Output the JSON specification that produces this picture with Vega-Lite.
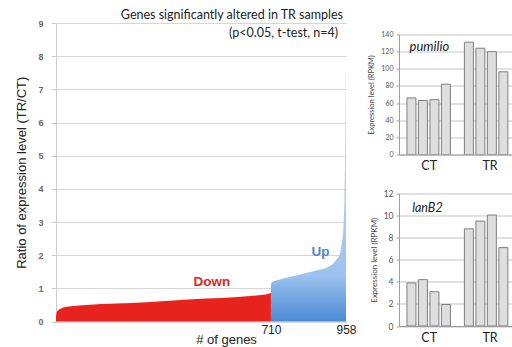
{
  "$schema": "https://vega.github.io/schema/vega-lite/v6.json",
  "padding": {"left": 15, "top": 9, "right": 0, "bottom": 0},
  "background": "white",
  "config": {"view": {"stroke": null}, "axis": {"labelOverlap": false, "gridOpacity": 1, "gridWidth": 1}},
  "datasets": {
    "genes": [
      {"gene": 0, "ratio": 0.14, "group": "Down"},
      {"gene": 2, "ratio": 0.26, "group": "Down"},
      {"gene": 6, "ratio": 0.33, "group": "Down"},
      {"gene": 12, "ratio": 0.37, "group": "Down"},
      {"gene": 24, "ratio": 0.42, "group": "Down"},
      {"gene": 50, "ratio": 0.46, "group": "Down"},
      {"gene": 100, "ratio": 0.50, "group": "Down"},
      {"gene": 200, "ratio": 0.54, "group": "Down"},
      {"gene": 300, "ratio": 0.58, "group": "Down"},
      {"gene": 400, "ratio": 0.64, "group": "Down"},
      {"gene": 498, "ratio": 0.69, "group": "Down"},
      {"gene": 600, "ratio": 0.74, "group": "Down"},
      {"gene": 670, "ratio": 0.79, "group": "Down"},
      {"gene": 700, "ratio": 0.83, "group": "Down"},
      {"gene": 710, "ratio": 0.87, "group": "Down"},
      {"gene": 710, "ratio": 1.12, "group": "Up"},
      {"gene": 712, "ratio": 1.17, "group": "Up"},
      {"gene": 720, "ratio": 1.21, "group": "Up"},
      {"gene": 740, "ratio": 1.27, "group": "Up"},
      {"gene": 762, "ratio": 1.32, "group": "Up"},
      {"gene": 800, "ratio": 1.40, "group": "Up"},
      {"gene": 828, "ratio": 1.47, "group": "Up"},
      {"gene": 860, "ratio": 1.54, "group": "Up"},
      {"gene": 894, "ratio": 1.62, "group": "Up"},
      {"gene": 910, "ratio": 1.70, "group": "Up"},
      {"gene": 927, "ratio": 1.87, "group": "Up"},
      {"gene": 938, "ratio": 2.05, "group": "Up"},
      {"gene": 945, "ratio": 2.4, "group": "Up"},
      {"gene": 950, "ratio": 2.9, "group": "Up"},
      {"gene": 953, "ratio": 3.8, "group": "Up"},
      {"gene": 955, "ratio": 5.0, "group": "Up"},
      {"gene": 956, "ratio": 6.2, "group": "Up"},
      {"gene": 957, "ratio": 7.2, "group": "Up"},
      {"gene": 958, "ratio": 7.65, "group": "Up"}
    ],
    "pumilio": [
      {"pos": 1, "sample": "CT", "rpkm": 66},
      {"pos": 2, "sample": "CT", "rpkm": 63},
      {"pos": 3, "sample": "CT", "rpkm": 64},
      {"pos": 4, "sample": "CT", "rpkm": 82},
      {"pos": 6, "sample": "TR", "rpkm": 131},
      {"pos": 7, "sample": "TR", "rpkm": 124},
      {"pos": 8, "sample": "TR", "rpkm": 120},
      {"pos": 9, "sample": "TR", "rpkm": 96.5}
    ],
    "lanb2": [
      {"pos": 1, "sample": "CT", "rpkm": 3.9},
      {"pos": 2, "sample": "CT", "rpkm": 4.2},
      {"pos": 3, "sample": "CT", "rpkm": 3.1},
      {"pos": 4, "sample": "CT", "rpkm": 1.95},
      {"pos": 6, "sample": "TR", "rpkm": 8.8},
      {"pos": 7, "sample": "TR", "rpkm": 9.5},
      {"pos": 8, "sample": "TR", "rpkm": 10.05},
      {"pos": 9, "sample": "TR", "rpkm": 7.1}
    ]
  },
  "bounds": "flush",
  "spacing": 53,
  "hconcat": [
    {
      "width": 290,
      "height": 298.5,
      "encoding": {
        "x": {"field": "gene", "type": "quantitative", "scale": {"domain": [0, 958], "nice": false},
          "axis": {"values": [710, 958], "labelFontSize": 12, "labelColor": "#222", "labelFont": "Liberation Sans", "ticks": false, "domainColor": "#d8d8d8", "grid": false, "labelFlush": false, "labelPadding": 3,
            "title": "# of genes", "titleFont": "Liberation Sans", "titleFontSize": 13, "titleFontWeight": "normal", "titleColor": "#222", "titlePadding": -2, "titleX": 170}},
        "y": {"field": "ratio", "type": "quantitative", "scale": {"domain": [0, 9], "nice": false},
          "axis": {"values": [0, 1, 2, 3, 4, 5, 6, 7, 8, 9], "grid": true, "gridColor": "#d6d6d6", "domainColor": "#cccccc", "tickColor": "#cccccc", "tickSize": 5,
            "labelFont": "Liberation Sans", "labelFontSize": 9, "labelFontWeight": "bold", "labelColor": "#6a6a6a", "labelPadding": 8,
            "title": "Ratio of expression level (TR/CT)", "titleFont": "Liberation Sans", "titleFontSize": 13, "titleFontWeight": "normal", "titleColor": "#222", "titleAnchor": "middle", "titlePadding": 9}}
      },
      "layer": [
        {
          "data": {"name": "genes"},
          "transform": [{"filter": "datum.group === 'Down'"}],
          "mark": {"type": "area", "color": "#e8231e", "interpolate": "monotone"}
        },
        {
          "data": {"name": "genes"},
          "transform": [{"filter": "datum.group === 'Up'"}],
          "mark": {"type": "area", "interpolate": "monotone",
            "color": {"gradient": "linear", "x1": 0, "y1": 0, "x2": 0, "y2": 1,
              "stops": [{"offset": 0, "color": "#cde1f8"}, {"offset": 0.82, "color": "#9cc2ee"}, {"offset": 1, "color": "#4a8ad5"}]}}
        },
        {
          "data": {"values": [{"gene": 515, "ratio": 1.18, "label": "Down"}]},
          "mark": {"type": "text", "font": "Liberation Sans", "fontSize": 13.5, "fontWeight": "bold", "color": "#e8231e"},
          "encoding": {"text": {"field": "label"}}
        },
        {
          "data": {"values": [{"gene": 874, "ratio": 2.1, "label": "Up"}]},
          "mark": {"type": "text", "font": "Liberation Sans", "fontSize": 13.5, "fontWeight": "bold", "color": "#4d86cc"},
          "encoding": {"text": {"field": "label"}}
        },
        {
          "data": {"values": [{"gene": 948, "ratio": 9.23, "label": "Genes significantly altered in TR samples"}, {"gene": 932, "ratio": 8.7, "label": "(p<0.05, t-test, n=4)"}]},
          "mark": {"type": "text", "font": "Lato", "fontSize": 12.5, "align": "right", "color": "#222"},
          "encoding": {"text": {"field": "label"}}
        }
      ]
    },
    {
      "bounds": "flush",
      "spacing": 10.5,
      "vconcat": [
        {"width": 10, "height": 1, "data": {"values": []}, "mark": "point", "encoding": {}},
        {
          "bounds": "flush",
          "spacing": 39,
          "vconcat": [
            {
              "width": 113,
              "height": 120,
              "encoding": {
                "x": {"field": "pos", "type": "quantitative", "scale": {"domain": [0.35, 9.318], "nice": false, "zero": false},
                  "axis": {"values": [2.5, 7.8], "labelExpr": "datum.value < 5 ? 'CT' : 'TR'", "ticks": false, "grid": false, "domainColor": "#999", "labelFont": "Lato", "labelFontSize": 12.5, "labelColor": "#222", "labelPadding": 5, "labelFlush": false, "title": null}},
                "y": {"field": "rpkm", "type": "quantitative", "scale": {"domain": [0, 140], "nice": false},
                  "axis": {"values": [0, 20, 40, 60, 80, 100, 120, 140], "grid": true, "gridColor": "#c4c4c4", "domainColor": "#a0a0a0", "tickColor": "#a0a0a0", "tickSize": 3,
                    "labelFont": "Lato", "labelFontSize": 7, "labelColor": "#555", "labelPadding": 3,
                    "title": "Expression level (RPKM)", "titleFont": "Lato", "titleFontSize": 7.5, "titleFontWeight": "normal", "titleColor": "#444", "titleAnchor": "middle", "titlePadding": 5}}
              },
              "layer": [
                {
                  "data": {"name": "pumilio"},
                  "mark": {"type": "bar", "width": 9, "fill": "#dedede", "stroke": "#7f7f7f", "strokeWidth": 1, "clip": true}
                },
                {
                  "data": {"values": [{"pos": 0.83, "rpkm": 125, "label": "pumilio"}]},
                  "mark": {"type": "text", "font": "Lato", "fontSize": 13, "fontStyle": "italic", "align": "left", "color": "#222"},
                  "encoding": {"text": {"field": "label"}}
                }
              ]
            },
            {
              "width": 113,
              "height": 132.5,
              "encoding": {
                "x": {"field": "pos", "type": "quantitative", "scale": {"domain": [0.35, 9.318], "nice": false, "zero": false},
                  "axis": {"values": [2.5, 7.8], "labelExpr": "datum.value < 5 ? 'CT' : 'TR'", "ticks": false, "grid": false, "domainColor": "#999", "labelFont": "Lato", "labelFontSize": 12.5, "labelColor": "#222", "labelPadding": 5, "labelFlush": false, "title": null}},
                "y": {"field": "rpkm", "type": "quantitative", "scale": {"domain": [0, 12], "nice": false},
                  "axis": {"values": [0, 2, 4, 6, 8, 10, 12], "grid": true, "gridColor": "#c4c4c4", "domainColor": "#a0a0a0", "tickColor": "#a0a0a0", "tickSize": 3,
                    "labelFont": "Lato", "labelFontSize": 8.5, "labelColor": "#555", "labelPadding": 3,
                    "title": "Expression level (RPKM)", "titleFont": "Lato", "titleFontSize": 8, "titleFontWeight": "normal", "titleColor": "#444", "titleAnchor": "middle", "titlePadding": 5}}
              },
              "layer": [
                {
                  "data": {"name": "lanb2"},
                  "mark": {"type": "bar", "width": 9, "fill": "#dedede", "stroke": "#7f7f7f", "strokeWidth": 1, "clip": true}
                },
                {
                  "data": {"values": [{"pos": 1.06, "rpkm": 10.69, "label": "lanB2"}]},
                  "mark": {"type": "text", "font": "Lato", "fontSize": 12.5, "fontStyle": "italic", "align": "left", "color": "#222"},
                  "encoding": {"text": {"field": "label"}}
                }
              ]
            }
          ]
        }
      ]
    }
  ]
}
